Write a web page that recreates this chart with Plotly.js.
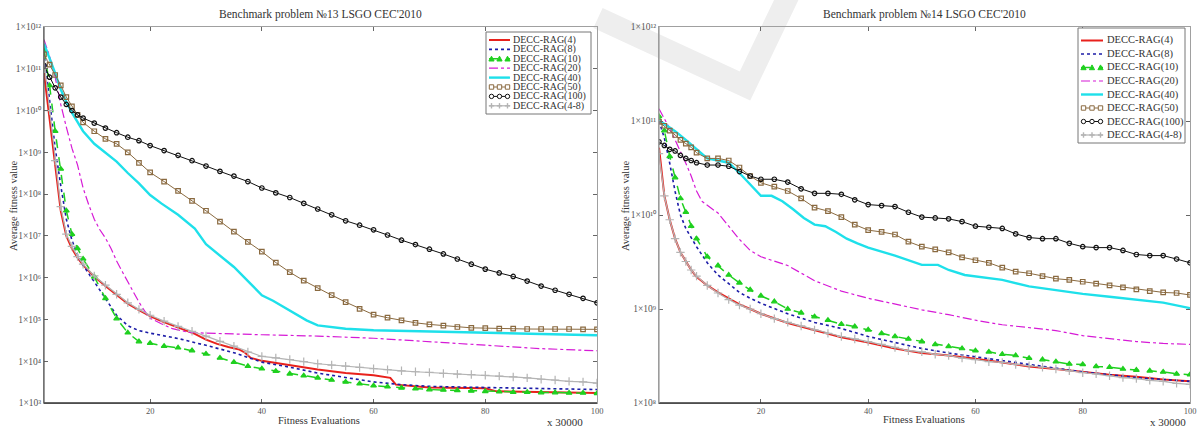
<!DOCTYPE html>
<html><head><meta charset="utf-8">
<script src="https://cdn.plot.ly/plotly-3.0.1.min.js"></script>
<style>html,body{margin:0;padding:0;background:#fff;}#chart{width:1197px;height:435px;}</style>
</head><body><div id="chart"></div>
<script>
// ---------- DATA ----------
const seriesNames = ['DECC-RAG(4)','DECC-RAG(8)','DECC-RAG(10)','DECC-RAG(20)','DECC-RAG(40)','DECC-RAG(50)','DECC-RAG(100)','DECC-RAG(4-8)'];
const yTickVals13 = [1e3,1e4,1e5,1e6,1e7,1e8,1e9,1e10,1e11,1e12];
const yTickText13 = ['1×10³','1×10⁴','1×10⁵','1×10⁶','1×10⁷','1×10⁸','1×10⁹','1×10¹⁰','1×10¹¹','1×10¹²'];
const yTickVals14 = [1e8,1e9,1e10,1e11,1e12];
const yTickText14 = ['1×10⁸','1×10⁹','1×10¹⁰','1×10¹¹','1×10¹²'];
const xTickVals = [20,40,60,80,100];

// shared x grid of the marker series (both problems)
const xMark = [1,2,3,4,5,6,7,8,10,12,14,16,18,20,22.5,25,27.5,30,32.5,35,37.5,40,42.5,45,47.5,50,52.5,55,57.5,60,62.5,65,67.5,70,72.5,75,77.5,80,82.5,85,87.5,90,92.5,95,97.5,100];

// ---- Problem 13 ----
const p13_4_x = [1,2,3,4,5,6,7,8,10,12,14,16,18,20,22,24,26,28,30,32,34,36,37,38,40,45,50,55,60,63,64,70,80,82,90,100];
const p13_4_y = [7.9e10,7.1e9,5.0e8,4.0e7,1.0e7,5.0e6,3.0e6,2.0e6,1.07e6,6.3e5,3.8e5,2.4e5,1.66e5,1.2e5,9.1e4,7.1e4,5.6e4,4.5e4,3.3e4,2.6e4,2.2e4,1.9e4,1.6e4,1.2e4,1.02e4,7.9e3,6.3e3,5.2e3,4.6e3,4.0e3,2.75e3,2.35e3,2.24e3,1.9e3,1.86e3,1.74e3];
const p13_8_x = [1,2,3,4,5,6,7,8,10,12,13,14,16,18,20,25,30,35,40,45,50,55,60,65,70,80,90,100];
const p13_8_y = [2.5e11,1.6e10,1.26e9,1.6e8,2.5e7,7.9e6,3.5e6,2.0e6,7.9e5,3.2e5,2.0e5,1.26e5,7.1e4,5.4e4,4.7e4,3.5e4,2.4e4,1.6e4,9.5e3,7.2e3,5.2e3,4.0e3,3.2e3,2.75e3,2.5e3,2.35e3,2.2e3,2.1e3];
const p13_10_y = [2.8e11,4.0e10,3.2e9,4.0e8,4.0e7,1.1e7,5.0e6,2.8e6,1.05e6,3.2e5,1.05e5,4.8e4,2.95e4,2.7e4,2.3e4,2.1e4,1.8e4,1.5e4,1.2e4,9.5e3,7.6e3,6.6e3,5.8e3,5.0e3,4.5e3,4.0e3,3.55e3,3.2e3,2.9e3,2.6e3,2.45e3,2.3e3,2.2e3,2.1e3,2.05e3,2.0e3,1.95e3,1.9e3,1.86e3,1.82e3,1.82e3,1.78e3,1.78e3,1.74e3,1.74e3,1.7e3];
const p13_20_x = [1,2,3,4,5,6,7,8,9,10,11,12,13,14,15,16,17,18,19,20,22,24,27,30,40,50,60,70,80,90,100];
const p13_20_y = [5.0e11,2.0e11,6.3e10,1.4e10,4.0e9,1.26e9,5.0e8,1.4e8,5.6e7,2.5e7,1.4e7,8.9e6,5.0e6,2.5e6,1.4e6,7.9e5,4.7e5,2.6e5,1.6e5,1.07e5,7.9e4,6.0e4,4.9e4,4.7e4,4.3e4,4.0e4,3.55e4,2.95e4,2.4e4,2.0e4,1.78e4];
const p13_40_x = [1,2,3,4,5,6,8,10,12,14,16,18,20,22,25,28,30,32,35,38,40,42,45,48,50,55,60,70,80,90,100];
const p13_40_y = [4.0e11,1.8e11,7.9e10,3.2e10,1.6e10,8.9e9,3.2e9,1.6e9,1.0e9,6.0e8,3.2e8,1.8e8,9.5e7,6.0e7,3.2e7,1.5e7,6.3e6,3.8e6,1.8e6,7.1e5,3.8e5,2.8e5,1.6e5,9.5e4,7.2e4,6.0e4,5.5e4,5.1e4,4.8e4,4.5e4,4.2e4];
const p13_50_y = [2.2e11,1.26e11,7.1e10,4.0e10,2.1e10,1.26e10,7.9e9,5.2e9,3.2e9,2.1e9,1.6e9,1.0e9,5.6e8,3.3e8,2.0e8,1.2e8,6.9e7,4.0e7,2.2e7,1.26e7,7.2e6,4.2e6,2.3e6,1.35e6,8.5e5,5.6e5,3.8e5,2.6e5,1.8e5,1.3e5,1.1e5,9.5e4,8.3e4,7.6e4,7.1e4,6.6e4,6.3e4,6.2e4,6.0e4,6.0e4,5.9e4,5.9e4,5.9e4,5.9e4,5.8e4,5.8e4];
const p13_100_y = [1.2e11,6.3e10,3.5e10,2.1e10,1.4e10,1.0e10,7.9e9,6.6e9,5.0e9,3.8e9,2.95e9,2.3e9,1.9e9,1.45e9,1.1e9,8.5e8,6.3e8,4.7e8,3.5e8,2.7e8,2.0e8,1.4e8,1.07e8,8.3e7,6.0e7,4.4e7,3.2e7,2.3e7,1.8e7,1.4e7,1.05e7,7.9e6,6.2e6,4.8e6,3.7e6,2.8e6,2.1e6,1.6e6,1.3e6,1.07e6,8.3e5,6.3e5,5.0e5,4.0e5,3.2e5,2.5e5];
const p13_48_y = [1.6e11,1.0e10,6.3e8,5.0e7,1.1e7,5.6e6,3.2e6,2.1e6,1.1e6,6.6e5,4.0e5,2.5e5,1.74e5,1.26e5,9.1e4,6.8e4,5.2e4,4.0e4,3.0e4,2.3e4,1.66e4,1.3e4,1.2e4,1.1e4,9.8e3,8.7e3,8.1e3,7.6e3,7.1e3,6.6e3,6.3e3,5.9e3,5.6e3,5.4e3,5.1e3,4.9e3,4.8e3,4.6e3,4.4e3,4.2e3,4.0e3,3.7e3,3.55e3,3.3e3,3.2e3,3.0e3];

// ---- Problem 14 ----
const p14_line_x = [1,2,3,4,5,6,7,8,10,12,14,16,18,20,25,30,35,40,45,50,55,60,65,70,75,80,85,90,95,100];
const p14_4_y = [5.2e10,1.6e10,8.9e9,5.6e9,4.0e9,3.2e9,2.6e9,2.2e9,1.78e9,1.5e9,1.3e9,1.12e9,1.0e9,8.9e8,7.1e8,6.0e8,5.0e8,4.4e8,3.8e8,3.4e8,3.2e8,2.95e8,2.7e8,2.45e8,2.3e8,2.14e8,2.0e8,1.9e8,1.78e8,1.7e8];
const p14_8_y = [1.0e11,6.6e10,3.55e10,1.78e10,1.0e10,7.2e9,5.75e9,4.6e9,3.1e9,2.3e9,1.86e9,1.5e9,1.3e9,1.15e9,8.9e8,7.2e8,6.2e8,5.1e8,4.4e8,3.8e8,3.4e8,3.1e8,2.8e8,2.6e8,2.35e8,2.14e8,2.0e8,1.86e8,1.78e8,1.7e8];
const p14_10_y = [1.12e11,7.9e10,4.2e10,2.5e10,1.5e10,1.07e10,7.6e9,5.6e9,3.6e9,2.9e9,2.3e9,1.9e9,1.6e9,1.38e9,1.2e9,1.0e9,9.1e8,8.3e8,7.6e8,6.9e8,6.5e8,6.0e8,5.5e8,5.1e8,4.8e8,4.5e8,4.2e8,4.0e8,3.8e8,3.6e8,3.5e8,3.3e8,3.2e8,3.0e8,2.9e8,2.75e8,2.6e8,2.57e8,2.45e8,2.4e8,2.3e8,2.24e8,2.2e8,2.14e8,2.04e8,2.0e8];
const p14_20_x = [1,2,3,4,5,6,7,8,9,10,11,12,14,16,18,20,22,25,30,35,40,45,50,55,60,65,70,75,80,85,90,95,100];
const p14_20_y = [1.35e11,1.07e11,8.3e10,6.3e10,4.8e10,3.55e10,2.6e10,1.8e10,1.4e10,1.26e10,1.15e10,1.05e10,7.6e9,5.5e9,4.2e9,3.6e9,3.3e9,2.9e9,2.0e9,1.55e9,1.3e9,1.12e9,9.8e8,8.7e8,7.6e8,6.8e8,6.3e8,5.9e8,5.2e8,4.8e8,4.5e8,4.3e8,4.2e8];
const p14_40_x = [1,2,4,6,8,10,12,14,16,18,20,22,24,26,28,30,32,34,36,38,40,45,48,50,53,55,58,62,65,70,75,80,85,90,95,100];
const p14_40_y = [1.02e11,9.3e10,7.8e10,6.3e10,5.0e10,4.0e10,3.8e10,3.6e10,2.8e10,2.1e10,1.6e10,1.6e10,1.4e10,1.15e10,9.3e9,7.9e9,7.6e9,6.6e9,5.6e9,5.0e9,4.5e9,3.7e9,3.2e9,2.95e9,2.95e9,2.6e9,2.3e9,2.14e9,2.04e9,1.74e9,1.58e9,1.45e9,1.35e9,1.26e9,1.17e9,1.02e9];
const p14_50_y = [9.8e10,8.9e10,7.9e10,7.1e10,6.3e10,5.75e10,5.25e10,4.6e10,4.0e10,4.0e10,3.8e10,3.2e10,2.6e10,2.2e10,2.0e10,1.8e10,1.5e10,1.2e10,1.1e10,9.5e9,7.9e9,6.9e9,6.6e9,6.2e9,5.2e9,4.6e9,4.3e9,4.0e9,3.55e9,3.3e9,3.1e9,2.75e9,2.5e9,2.4e9,2.24e9,2.1e9,2.04e9,1.95e9,1.86e9,1.78e9,1.7e9,1.62e9,1.55e9,1.5e9,1.48e9,1.41e9];
const p14_100_y = [6.0e10,5.5e10,5.0e10,4.8e10,4.3e10,4.0e10,3.8e10,3.6e10,3.4e10,3.4e10,3.3e10,2.9e10,2.6e10,2.4e10,2.4e10,2.24e10,1.9e10,1.7e10,1.7e10,1.66e10,1.45e10,1.29e10,1.26e10,1.23e10,1.07e10,9.5e9,9.3e9,9.1e9,8.5e9,7.6e9,7.4e9,7.2e9,6.3e9,5.75e9,5.6e9,5.6e9,5.0e9,4.6e9,4.5e9,4.5e9,4.2e9,3.8e9,3.7e9,3.7e9,3.4e9,3.1e9];
const p14_48_y = [4.5e10,1.6e10,8.9e9,5.6e9,4.0e9,3.2e9,2.6e9,2.24e9,1.78e9,1.48e9,1.26e9,1.1e9,1.0e9,8.9e8,7.9e8,7.2e8,6.6e8,6.0e8,5.5e8,5.1e8,4.8e8,4.5e8,4.2e8,3.9e8,3.6e8,3.5e8,3.3e8,3.2e8,3.0e8,2.9e8,2.75e8,2.7e8,2.57e8,2.5e8,2.4e8,2.3e8,2.2e8,2.1e8,2.04e8,1.95e8,1.86e8,1.82e8,1.74e8,1.7e8,1.62e8,1.58e8];

// ---------- STYLES ----------
const SERIF = '"Liberation Serif","Times New Roman",serif';
const styles = [
  {color:'#e8211c', dash:'solid',   width:2,   symbol:null},
  {color:'#1c1ca8', dash:'dot',     width:1.6, symbol:null},
  {color:'#1fd01f', dash:'dash',    width:1.5, symbol:'triangle-up', msize:5, mk:'tri'},
  {color:'#d61ad6', dash:'dashdot', width:1.2, symbol:null},
  {color:'#1ee0ea', dash:'solid',   width:2.4, symbol:null},
  {color:'#8a6a40', dash:'solid',   width:1,   symbol:'square-open', msize:4.5, mk:'sq'},
  {color:'#111111', dash:'solid',   width:1,   symbol:'circle-open', msize:4.5, mk:'circ'},
  {color:'#b4b4b4', dash:'solid',   width:1.2, symbol:'cross-thin-open', msize:6, mk:'plus'}
];

function mk(i, x, y, xa, ya){
  const s = styles[i];
  const t = {type:'scatter', x:x, y:y, xaxis:xa, yaxis:ya, name:seriesNames[i], showlegend:false,
    mode: s.symbol ? 'lines+markers' : 'lines',
    line:{color:s.color, width:s.width, dash:s.dash}, hoverinfo:'skip'};
  if (s.symbol) t.marker = {symbol:s.symbol, size:s.msize, color:s.color, line:{color:s.color, width:1.2}};
  return t;
}

const data = [
  mk(0,p13_4_x,p13_4_y,'x','y'),
  mk(1,p13_8_x,p13_8_y,'x','y'),
  mk(2,xMark,p13_10_y,'x','y'),
  mk(3,p13_20_x,p13_20_y,'x','y'),
  mk(4,p13_40_x,p13_40_y,'x','y'),
  mk(5,xMark,p13_50_y,'x','y'),
  mk(6,xMark,p13_100_y,'x','y'),
  mk(7,xMark,p13_48_y,'x','y'),
  mk(0,p14_line_x,p14_4_y,'x2','y2'),
  mk(1,p14_line_x,p14_8_y,'x2','y2'),
  mk(2,xMark,p14_10_y,'x2','y2'),
  mk(3,p14_20_x,p14_20_y,'x2','y2'),
  mk(4,p14_40_x,p14_40_y,'x2','y2'),
  mk(5,xMark,p14_50_y,'x2','y2'),
  mk(6,xMark,p14_100_y,'x2','y2'),
  mk(7,xMark,p14_48_y,'x2','y2')
];

// ---------- LAYOUT ----------
const W = 1197, H = 435;
const px = v => v / W, py = v => 1 - v / H;

function xAx(dom, anchor){
  return {domain:dom, anchor:anchor, range:[1,100], tickvals:xTickVals, ticks:'inside', ticklen:4,
    tickcolor:'#666', showline:true, linecolor:'#a0a0a0', linewidth:1, mirror:'ticks', showgrid:false,
    zeroline:false, tickfont:{family:SERIF, size:8.5, color:'#555'}, fixedrange:true};
}
function yAx(dom, anchor, range, vals, texts){
  return {domain:dom, anchor:anchor, type:'log', range:range, tickvals:vals, ticktext:texts,
    ticks:'inside', ticklen:4, tickcolor:'#666', showline:true, linecolor:'#a0a0a0', linewidth:1,
    mirror:'ticks', showgrid:false, zeroline:false, tickfont:{family:SERIF, size:9.5, color:'#555'}, fixedrange:true};
}

const shapes = [
  // faint watermark stroke
  {type:'path', xref:'paper', yref:'paper', layer:'below',
   path:'M '+px(598)+' '+py(18)+' L '+px(745)+' '+py(86)+' L '+px(792)+' '+py(-12),
   line:{color:'#eeeeee', width:22}},
  // dark bottom/left axis lines
  {type:'line', xref:'x domain', yref:'y domain', x0:0, x1:1, y0:0, y1:0, line:{color:'#333', width:1.5}},
  {type:'line', xref:'x domain', yref:'y domain', x0:0, x1:0, y0:0, y1:1, line:{color:'#555', width:1.2}},
  {type:'line', xref:'x2 domain', yref:'y2 domain', x0:0, x1:1, y0:0, y1:0, line:{color:'#333', width:1.5}},
  {type:'line', xref:'x2 domain', yref:'y2 domain', x0:0, x1:0, y0:0, y1:1, line:{color:'#999', width:1.2}}
];

const annotations = [
  {text:"Benchmark problem №13 LSGO CEC'2010", x:px(320), y:py(14), font:{size:11.5}},
  {text:"Benchmark problem №14 LSGO CEC'2010", x:px(924), y:py(14), font:{size:11.5}},
  {text:'Fitness Evaluations', x:px(319), y:py(420), font:{size:10.5}},
  {text:'Fitness Evaluations', x:px(924), y:py(419), font:{size:10.5}},
  {text:'x 30000', x:px(565), y:py(422), font:{size:11}},
  {text:'x 30000', x:px(1168), y:py(422), font:{size:11}},
  {text:'Average fitness value', x:px(13), y:py(206), textangle:-90, font:{size:10.5}},
  {text:'Average fitness value', x:px(625), y:py(206), textangle:-90, font:{size:10.5}}
].map(a => Object.assign({xref:'paper', yref:'paper', showarrow:false, xanchor:'center', yanchor:'middle'}, a,
  {font:Object.assign({family:SERIF, color:'#333'}, a.font)}));

// small marker sample drawn as shapes (legend only)
function markerShape(kind, cx, cy, color){
  const r = 2.2;
  const P = (x, y) => px(x) + ' ' + py(y);
  if (kind === 'tri') return [{type:'path', xref:'paper', yref:'paper',
    path:'M '+P(cx-r-0.4, cy+r)+' L '+P(cx, cy-r-0.4)+' L '+P(cx+r+0.4, cy+r)+' Z',
    fillcolor:color, line:{color:color, width:1}}];
  if (kind === 'sq') return [{type:'rect', xref:'paper', yref:'paper', x0:px(cx-r), x1:px(cx+r), y0:py(cy+r), y1:py(cy-r),
    fillcolor:'#fff', line:{color:color, width:1}}];
  if (kind === 'circ') return [{type:'circle', xref:'paper', yref:'paper', x0:px(cx-r), x1:px(cx+r), y0:py(cy+r), y1:py(cy-r),
    fillcolor:'#fff', line:{color:color, width:1}}];
  return [
    {type:'line', xref:'paper', yref:'paper', x0:px(cx-r-0.5), x1:px(cx+r+0.5), y0:py(cy), y1:py(cy), line:{color:color, width:1.4}},
    {type:'line', xref:'paper', yref:'paper', x0:px(cx), x1:px(cx), y0:py(cy-r-0.5), y1:py(cy+r+0.5), line:{color:color, width:1.4}}
  ];
}

// custom compact legends (one per panel)
function addLegend(box, row0, rowStep, sx0, sx1, tx, fs){
  shapes.push({type:'rect', xref:'paper', yref:'paper', x0:px(box[0]), x1:px(box[2]), y0:py(box[3]), y1:py(box[1]),
    line:{color:'#777', width:1}, fillcolor:'#fff'});
  seriesNames.forEach((nm, i) => {
    const s = styles[i], yy = row0 + i * rowStep;
    shapes.push({type:'line', xref:'paper', yref:'paper', x0:px(sx0), x1:px(sx1), y0:py(yy), y1:py(yy),
      line:{color:s.color, width:s.width, dash:s.dash}});
    if (s.mk) {
      [sx0+2.5, (sx0+sx1)/2, sx1-2.5].forEach(gx => markerShape(s.mk, gx, yy, s.color).forEach(sh => shapes.push(sh)));
    }
    annotations.push({xref:'paper', yref:'paper', showarrow:false, x:px(tx), y:py(yy), xanchor:'left', yanchor:'middle',
      text:nm, font:{family:SERIF, size:fs, color:'#333'}});
  });
}
addLegend([486,32,591,114], 40, 9.4, 489, 510, 511, 10);
addLegend([1078,28,1185,143], 40.5, 13.5, 1081, 1103, 1105, 10.5);

const layout = {
  width:W, height:H, margin:{l:0, r:0, t:0, b:0}, paper_bgcolor:'#fff', plot_bgcolor:'rgba(0,0,0,0)',
  showlegend:false, font:{family:SERIF, color:'#333'},
  xaxis:xAx([px(44), px(597)], 'y'),
  yaxis:yAx([py(403), py(27)], 'x', [3,12], yTickVals13, yTickText13),
  xaxis2:xAx([px(659), px(1190)], 'y2'),
  yaxis2:yAx([py(403), py(27)], 'x2', [8,12], yTickVals14, yTickText14),
  shapes:shapes, annotations:annotations
};

Plotly.newPlot('chart', data, layout, {displayModeBar:false, staticPlot:true});
</script>
</body></html>
